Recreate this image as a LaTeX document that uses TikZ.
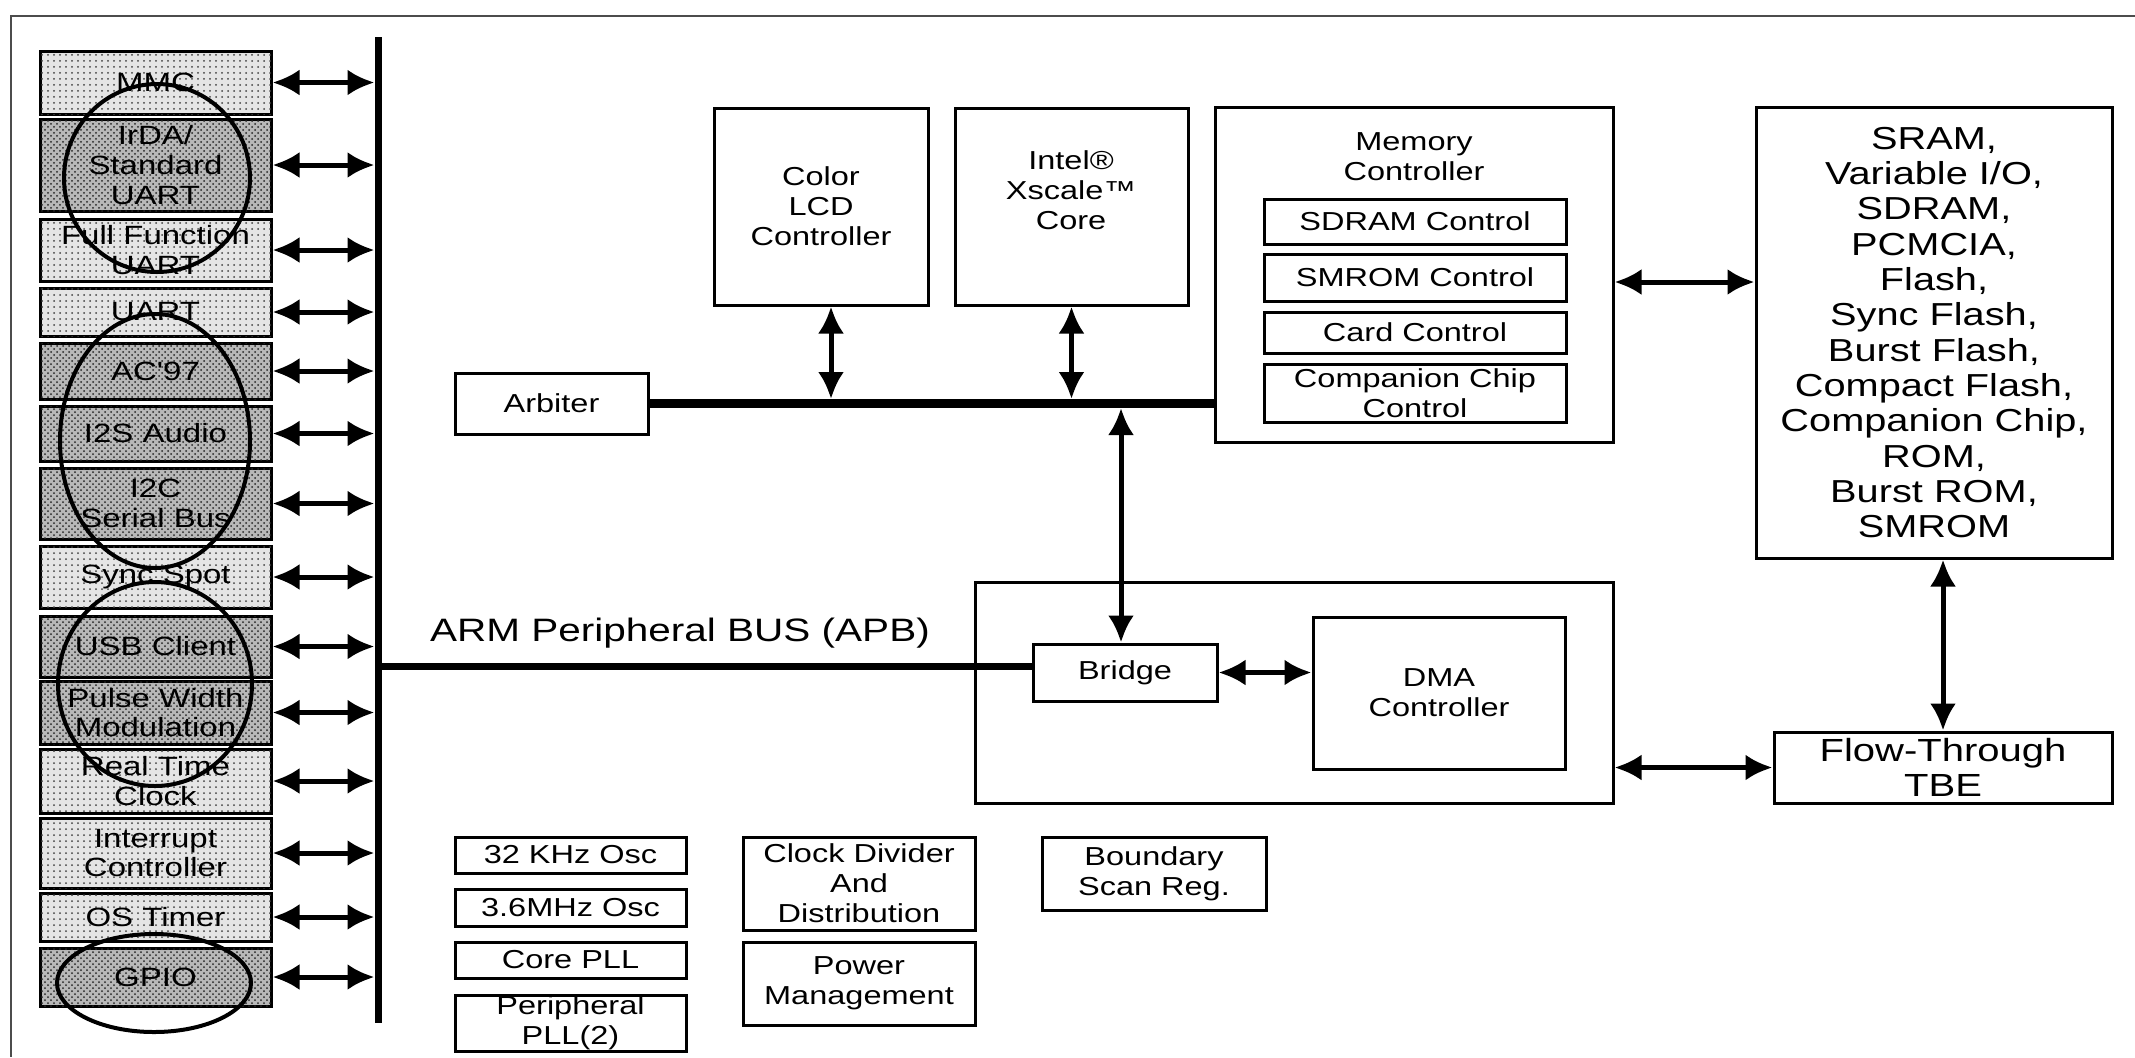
\documentclass[tikz,border=0pt]{standalone}
\usepackage{fontspec}
\setmainfont{Liberation Sans}
\newfontfamily\hv[FakeStretch=1.25]{Liberation Sans}
\usetikzlibrary{arrows.meta,patterns}

% one unit = one pixel of a 2135 x 1057 sheet, y grows downwards
\tikzset{
  blk/.style={draw, line width=1.5pt, inner sep=0pt, align=center,
    font=\fontsize{13}{15}\hv, fill=white},
  txt/.style={inner sep=0pt, align=center, font=\fontsize{13}{15}\hv},
  lightdots/.style={fill=black!10, postaction={pattern=dots, pattern color=black!75}},
  densedots/.style={fill=black!28, postaction={pattern=crosshatch dots, pattern color=black!85}},
  leftfont/.style={font=\fontsize{13.2}{14.8}\hv},
  sramfont/.style={font=\fontsize{15.9}{17.65}\hv},
  tbefont/.style={font=\fontsize{16}{17.5}\hv},
  apbfont/.style={font=\fontsize{16.2}{18}\hv},
  biarrow/.style={line width=2.5pt,
    {Latex[length=13.5pt,width=13pt]}-{Latex[length=13.5pt,width=13pt]}},
  vbus/.style={line width=3.5pt},
  sysbus/.style={line width=4.5pt},
  ring/.style={line width=2pt},
  frame/.style={line width=1pt, draw=black!70},
}

% block from (x1,y1) to (x2,y2): [style] name x1 y1 x2 y2 text
\newcommand\blk[7][]{%
  \node[blk,minimum width={(#5-#3)*0.5pt},minimum height={(#6-#4)*0.5pt},#1]
    (#2) at ({(#3+#5)/2},{(#4+#6)/2}) {#7};}
% peripheral on the APB column: [fill style] name y1 y2 text
\newcommand\pbox[5][lightdots]{%
  \node[blk,leftfont,#1,minimum width=115.5pt,minimum height={(#4-#3)*0.5pt}]
    (#2) at (155.5,{(#3+#4)/2}) {#5};}

\begin{document}
\begin{tikzpicture}[x=0.5pt,y=-0.5pt]
\useasboundingbox (0,0) rectangle (2135,1057);

% sheet edge
\coordinate (fTL) at (11,16);
\draw[frame] (2135,16) -- (fTL) -- (11,1057);

% ARM peripheral bus (vertical)
\coordinate (vbusTop) at (378,37);
\coordinate (vbusBot) at (378,1023);
\coordinate (busEdge) at (374.5,0);
\draw[vbus] (vbusTop) -- (vbusBot);

% peripherals
\pbox{mmc}{51}{114}{MMC}
\pbox[densedots]{irda}{119}{211}{IrDA/\\Standard\\UART}
\pbox{ffuart}{219}{281}{Full Function\\UART}
\pbox{uart}{288}{336}{UART}
\pbox[densedots]{ac97}{343}{399}{AC'97}
\pbox[densedots]{i2s}{406}{461}{I2S Audio}
\pbox[densedots]{i2c}{468}{539}{I2C\\Serial Bus}
\pbox{sync}{546}{608}{Sync Spot}
\pbox[densedots]{usb}{616}{677}{USB Client}
\pbox[densedots]{pwm}{681}{744}{Pulse Width\\Modulation}
\pbox{rtc}{749}{813}{Real Time\\Clock}
\pbox{intc}{818}{888}{Interrupt\\Controller}
\pbox{ost}{893}{941}{OS Timer}
\pbox[densedots]{gpio}{948}{1006}{GPIO}

\foreach \p in {mmc,irda,ffuart,uart,ac97,i2s,i2c,sync,usb,pwm,rtc,intc,ost,gpio}
  \draw[biarrow] (\p.east) -- (\p.east -| busEdge);

% rings around the highlighted peripherals
\draw[ring] (157,178) ellipse [x radius=46.5pt, y radius=47pt];
\draw[ring] (155,441) ellipse [x radius=47.5pt, y radius=63.5pt];
\draw[ring] (155,684) ellipse [x radius=48.5pt, y radius=51pt];
\draw[ring] (154,983) ellipse [x radius=48.5pt, y radius=24.5pt];

% system bus
\blk{arb}{455}{373}{648}{434}{Arbiter}
\blk{lcd}{714}{108}{928}{305}{Color\\LCD\\Controller}
\blk{core}{955}{108}{1188}{305}{}
\node[txt] (coretxt) at (1071,190) {Intel®\\Xscale™\\Core};
\blk{mem}{1215}{107}{1613}{442}{}
\node[txt] (memtxt) at (1414,157) {Memory\\Controller};
\blk{sdram}{1264}{199}{1566}{244}{SDRAM Control}
\blk{smrom}{1264}{254}{1566}{301}{SMROM Control}
\blk{card}{1264}{312}{1566}{353}{Card Control}
\blk{ccc}{1264}{364}{1566}{422}{Companion Chip\\Control}

\draw[sysbus] (arb.east) -- (arb.east -| mem.west);
\coordinate (sysTop) at (0,399);
\coordinate (sysBot) at (0,408);
\draw[biarrow] ([xshift=5pt]lcd.south) -- ([xshift=5pt]lcd.south |- sysTop);
\draw[biarrow] (core.south) -- (core.south |- sysTop);

% external memory side
\blk[sramfont]{sram}{1756}{107}{2112}{558}{SRAM,\\Variable I/O,\\SDRAM,\\PCMCIA,\\Flash,\\Sync Flash,\\Burst Flash,\\Compact Flash,\\Companion Chip,\\ROM,\\Burst ROM,\\SMROM}
\coordinate (msY) at (0,282);
\draw[biarrow] (mem.east |- msY) -- (sram.west |- msY);

% bridge and DMA
\blk{big}{975}{582}{1613}{803}{}
\blk{bridge}{1033}{644}{1217}{701}{Bridge}
\blk{dma}{1313}{617}{1565}{769}{DMA\\Controller}
\draw[biarrow] ([xshift=-2pt]bridge.north |- sysBot) -- ([xshift=-2pt]bridge.north);
\draw[biarrow] (bridge.east) -- (bridge.east -| dma.west);

\blk[tbefont]{tbe}{1774}{732}{2112}{803}{Flow-Through\\TBE}
\draw[biarrow] (tbe.north) -- (tbe.north |- sram.south);
\draw[biarrow] (tbe.west -| big.east) -- (tbe.west);

% APB to bridge
\coordinate (apbL) at (378,666);
\draw[vbus] (apbL) -- (apbL -| bridge.west);
\node[apbfont, inner sep=0pt] (apblbl) at (680,633) {ARM Peripheral BUS (APB)};

% clocks, power, test
\blk{osc32}{455}{837}{686}{873}{32 KHz Osc}
\blk{osc36}{455}{889}{686}{926}{3.6MHz Osc}
\blk{cpll}{455}{942}{686}{978}{Core PLL}
\blk{ppll}{455}{995}{686}{1051}{Peripheral\\PLL(2)}
\blk{clkdiv}{743}{837}{975}{930}{Clock Divider\\And\\Distribution}
\blk{pwr}{743}{942}{975}{1025}{Power\\Management}
\blk{bsr}{1042}{837}{1266}{910}{Boundary\\Scan Reg.}
\end{tikzpicture}
\end{document}
